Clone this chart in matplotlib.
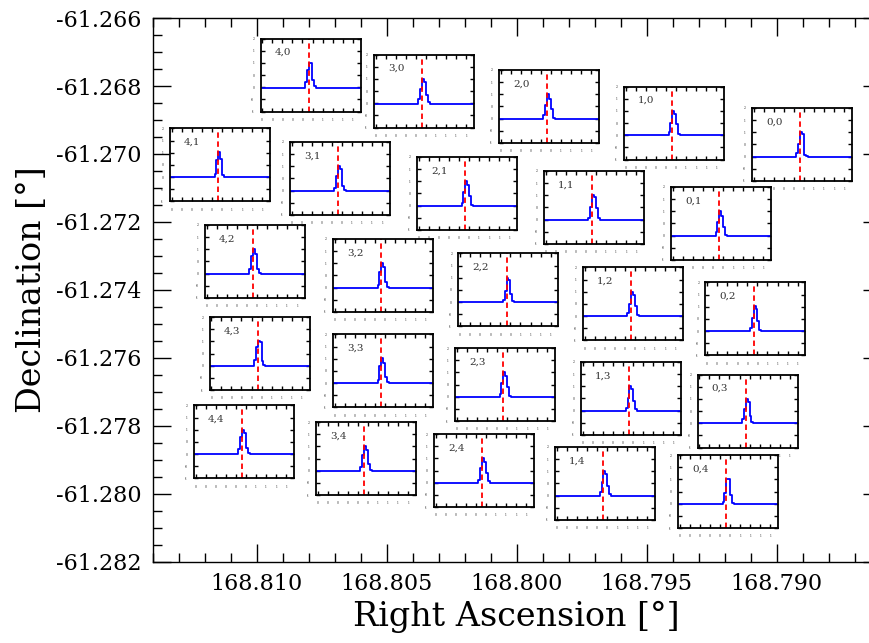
import matplotlib
matplotlib.use("Agg")
import matplotlib.pyplot as plt
import numpy as np
from matplotlib.ticker import MultipleLocator, FormatStrFormatter

plt.rcParams['font.family'] = ['DejaVu Serif']
plt.rcParams['axes.unicode_minus'] = False

# ---- data -------------------------------------------------------------
inset_labels = ["4,0", "3,0", "2,0", "1,0", "0,0",
                "4,1", "3,1", "2,1", "1,1", "0,1",
                "4,2", "3,2", "2,2", "1,2", "0,2",
                "4,3", "3,3", "2,3", "1,3", "0,3",
                "4,4", "3,4", "2,4", "1,4", "0,4"]
inset_ra = [168.80793, 168.80357, 168.79876, 168.79395, 168.78903,
            168.81141, 168.80680, 168.80191, 168.79703, 168.79214,
            168.81007, 168.80514, 168.80032, 168.79553, 168.79082,
            168.80989, 168.80514, 168.80045, 168.79560, 168.79112,
            168.81049, 168.80580, 168.80126, 168.79660, 168.79187]
inset_dec = [-61.26768, -61.26815, -61.26860, -61.26909, -61.26972,
             -61.27032, -61.27072, -61.27116, -61.27157, -61.27204,
             -61.27316, -61.27357, -61.27400, -61.27441, -61.27485,
             -61.27587, -61.27638, -61.27678, -61.27719, -61.27756,
             -61.27847, -61.27896, -61.27931, -61.27969, -61.27993]
# normalised flux in the six line channels (baseline = 0)
peak_profiles = [
    [0.24, 0.72, 1.00, 0.97, 0.30, 0.06],
    [0.18, 0.60, 1.00, 0.85, 0.35, 0.06],
    [0.15, 0.55, 1.00, 0.80, 0.40, 0.05],
    [0.12, 0.50, 1.00, 0.88, 0.45, 0.06],
    [0.16, 0.51, 1.00, 0.93, 0.06, 0.02],
    [0.15, 0.70, 1.00, 0.75, 0.10, 0.03],
    [0.12, 0.60, 1.00, 0.90, 0.20, 0.04],
    [0.10, 0.55, 1.00, 0.85, 0.40, 0.05],
    [0.07, 0.51, 1.00, 0.91, 0.49, 0.07],
    [0.15, 0.55, 1.00, 0.80, 0.35, 0.05],
    [0.20, 0.70, 1.00, 0.80, 0.20, 0.04],
    [0.12, 0.65, 1.00, 0.85, 0.25, 0.05],
    [0.10, 0.45, 1.00, 0.90, 0.35, 0.05],
    [0.12, 0.50, 1.00, 0.85, 0.40, 0.06],
    [0.15, 0.55, 1.00, 0.90, 0.40, 0.06],
    [0.25, 0.75, 1.00, 0.95, 0.20, 0.04],
    [0.15, 0.70, 1.00, 0.80, 0.25, 0.05],
    [0.10, 0.55, 1.00, 0.85, 0.40, 0.05],
    [0.12, 0.50, 1.00, 0.90, 0.40, 0.06],
    [0.18, 0.60, 1.00, 0.85, 0.30, 0.05],
    [0.20, 0.70, 1.00, 0.85, 0.25, 0.05],
    [0.15, 0.65, 1.00, 0.85, 0.30, 0.05],
    [0.12, 0.60, 1.00, 0.85, 0.40, 0.06],
    [0.15, 0.55, 1.00, 0.90, 0.40, 0.06],
    [0.10, 0.45, 1.00, 1.00, 0.35, 0.06],
]
n_channels = 54
first_line_channel = 24
channel_start = -0.0066
channel_step = 0.0184
ref_velocity = 0.463

# ---- figure -------------------------------------------------------------
fig = plt.figure(figsize=(8.69, 6.43), dpi=100)
ax = fig.add_axes([0.1757, 0.126, 0.8378, 0.846])
xlim = (168.814, 168.786)
ylim = (-61.282, -61.266)
ax.set_xlim(*xlim)
ax.set_ylim(*ylim)
ax.xaxis.set_major_locator(MultipleLocator(0.005))
ax.xaxis.set_minor_locator(MultipleLocator(0.001))
ax.yaxis.set_major_locator(MultipleLocator(0.002))
ax.yaxis.set_minor_locator(MultipleLocator(0.0005))
ax.xaxis.set_major_formatter(FormatStrFormatter('%.3f'))
ax.yaxis.set_major_formatter(FormatStrFormatter('%.3f'))
ax.tick_params(which='both', direction='in', top=True, right=True, width=1.0)
ax.tick_params(which='major', length=12.7, labelsize=16, pad=8)
ax.tick_params(which='minor', length=6.5)
for s in ax.spines.values():
    s.set_linewidth(1.0)
ax.set_xlabel('Right Ascension [°]', fontsize=24, labelpad=4)
ax.set_ylabel('Declination [°]', fontsize=24, labelpad=6)

vel = channel_start + channel_step * np.arange(n_channels)
wf = 100.0 / 728.0
hf = 73.0 / 544.0
ylo, yhi = -0.97, 1.97
for lab, ra, dec, prof in zip(inset_labels, inset_ra, inset_dec, peak_profiles):
    fx = (ra - xlim[0]) / (xlim[1] - xlim[0])
    fy = (dec - ylim[0]) / (ylim[1] - ylim[0])
    iax = ax.inset_axes([fx - wf / 2, fy - hf / 2, wf, hf])
    flux = np.zeros(n_channels)
    flux[first_line_channel:first_line_channel + len(prof)] = prof
    iax.step(vel, flux, where='mid', color='blue', lw=1.3)
    iax.axvline(ref_velocity, color='red', ls=(0, (3.0, 2.0)), lw=1.3)
    iax.set_xlim(-0.017, 0.977)
    iax.set_ylim(ylo, yhi)
    iax.set_xticks(np.arange(0, 0.95, 0.1))
    iax.set_yticks(np.linspace(ylo, yhi, 7))
    iax.xaxis.set_major_formatter(FormatStrFormatter('%.0f'))
    iax.yaxis.set_major_formatter(FormatStrFormatter('%.0f'))
    iax.tick_params(direction='in', top=True, right=True, length=3,
                    width=1.0, labelsize=2.2, pad=4.5, labelcolor='#222222')
    for s in iax.spines.values():
        s.set_linewidth(1.3)
    iax.text(0.14, 0.81, lab, transform=iax.transAxes, fontsize=7.5,
             color='#333333', ha='left', va='center')

fig.savefig('out.png', dpi=100)
